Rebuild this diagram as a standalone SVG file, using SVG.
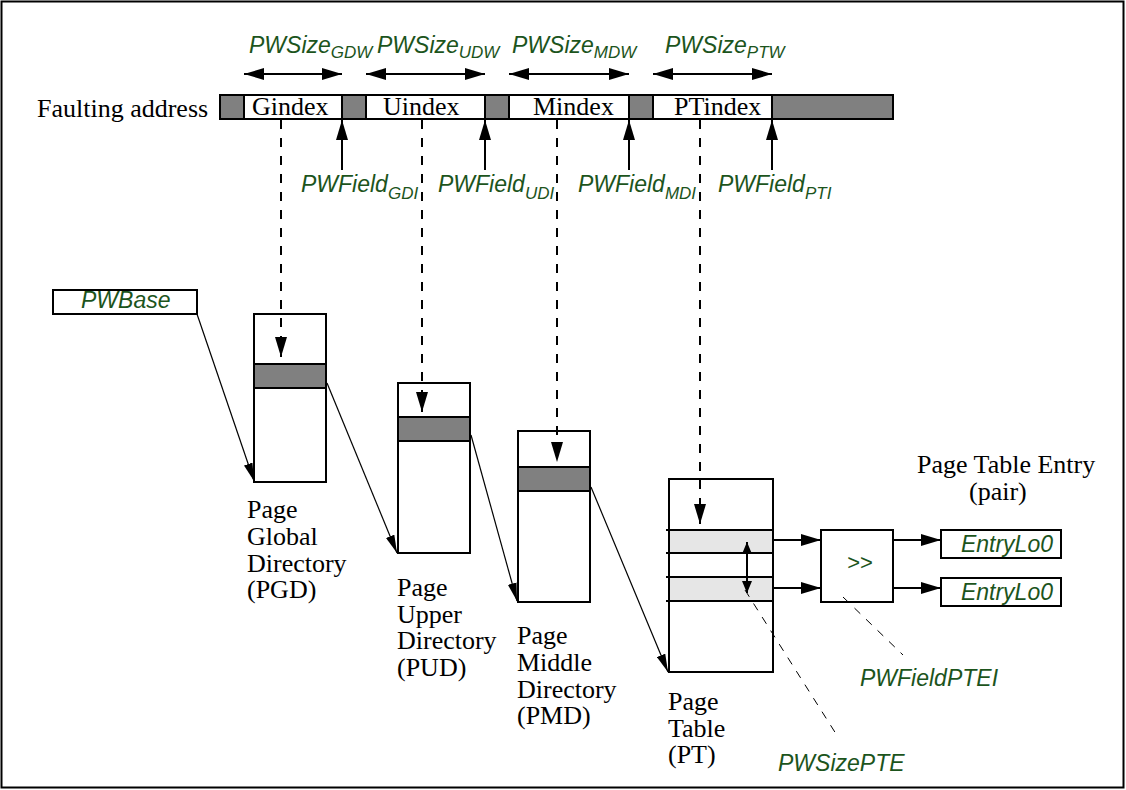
<svg xmlns="http://www.w3.org/2000/svg" width="1126" height="790" viewBox="0 0 1126 790">
<style>
.box{fill:#fff;stroke:#000;stroke-width:2}
.dk{fill:#808080;stroke:#000;stroke-width:2}
.lt{fill:#e6e6e6;stroke:#000;stroke-width:2}
.ser{font-family:"Liberation Serif","Times New Roman",serif;font-size:26px;fill:#000}
.grn{font-family:"Liberation Sans",Arial,sans-serif;font-style:italic;font-size:23px;fill:#1c541c}
.sub{font-size:17px}
.thick{stroke:#000;stroke-width:2;fill:none}
.thin{stroke:#000;stroke-width:1.2;fill:none}
.dash{stroke:#000;stroke-width:2;fill:none;stroke-dasharray:9 9}
.tdash{stroke:#000;stroke-width:1;fill:none;stroke-dasharray:8 8}
</style>
<defs>
<marker id="ah" markerUnits="userSpaceOnUse" markerWidth="20" markerHeight="12" refX="20" refY="6" orient="auto-start-reverse"><path d="M0,0 L20,6 L0,12 z" fill="#000"/></marker>
<marker id="ahs" markerUnits="userSpaceOnUse" markerWidth="18" markerHeight="9" refX="18" refY="4.5" orient="auto"><path d="M0,0 L18,4.5 L0,9 z" fill="#000"/></marker>
<marker id="ahm" markerUnits="userSpaceOnUse" markerWidth="12" markerHeight="10" refX="12" refY="5" orient="auto-start-reverse"><path d="M0,0 L12,5 L0,10 z" fill="#000"/></marker>
</defs>
<rect x="1.5" y="1.5" width="1122" height="786" fill="#fff" stroke="#000" stroke-width="2"/>

<g id="faulting-address">
<text class="ser" x="37" y="117">Faulting address</text>
<rect class="dk" x="220" y="95" width="24" height="24"/>
<rect class="box" x="244" y="95" width="98" height="24"/>
<rect class="dk" x="342" y="95" width="24" height="24"/>
<rect class="box" x="366" y="95" width="119" height="24"/>
<rect class="dk" x="485" y="95" width="24" height="24"/>
<rect class="box" x="509" y="95" width="120" height="24"/>
<rect class="dk" x="629" y="95" width="24" height="24"/>
<rect class="box" x="653" y="95" width="119" height="24"/>
<rect class="dk" x="772" y="95" width="121" height="24"/>
<text class="ser" x="252" y="114.5">Gindex</text>
<text class="ser" x="383" y="114.5">Uindex</text>
<text class="ser" x="533" y="114.5">Mindex</text>
<text class="ser" x="674" y="114.5">PTindex</text>
</g>

<g id="size-labels">
<text class="grn" x="249" y="53">PWSize<tspan class="sub" dy="5">GDW</tspan></text>
<text class="grn" x="377" y="53">PWSize<tspan class="sub" dy="5">UDW</tspan></text>
<text class="grn" x="512" y="53">PWSize<tspan class="sub" dy="5">MDW</tspan></text>
<text class="grn" x="665" y="53">PWSize<tspan class="sub" dy="5">PTW</tspan></text>
</g>

<g id="field-labels">
<text class="grn" x="301" y="192">PWField<tspan class="sub" dy="7">GDI</tspan></text>
<text class="grn" x="438" y="192">PWField<tspan class="sub" dy="7">UDI</tspan></text>
<text class="grn" x="578" y="192">PWField<tspan class="sub" dy="7">MDI</tspan></text>
<text class="grn" x="718" y="192">PWField<tspan class="sub" dy="7">PTI</tspan></text>
</g>

<g id="pwbase">
<rect class="box" x="53" y="290" width="144" height="24"/>
<text class="grn" x="81" y="308">PWBase</text>
</g>

<g id="pgd">
<rect class="box" x="254" y="314" width="72" height="168"/>
<rect class="dk" x="254" y="364" width="72" height="24"/>
<text class="ser" x="247"><tspan x="247" y="518">Page</tspan><tspan x="247" y="545">Global</tspan><tspan x="247" y="572">Directory</tspan><tspan x="247" y="598">(PGD)</tspan></text>
</g>

<g id="pud">
<rect class="box" x="398" y="383" width="72" height="170"/>
<rect class="dk" x="398" y="417" width="72" height="24"/>
<text class="ser" x="397"><tspan x="397" y="596">Page</tspan><tspan x="397" y="623">Upper</tspan><tspan x="397" y="649">Directory</tspan><tspan x="397" y="676">(PUD)</tspan></text>
</g>

<g id="pmd">
<rect class="box" x="518" y="431" width="72" height="171"/>
<rect class="dk" x="518" y="467" width="72" height="24"/>
<text class="ser" x="517"><tspan x="517" y="644">Page</tspan><tspan x="517" y="671">Middle</tspan><tspan x="517" y="698">Directory</tspan><tspan x="517" y="724">(PMD)</tspan></text>
</g>

<g id="pt">
<rect class="box" x="669" y="479" width="104" height="193"/>
<rect x="669" y="530" width="104" height="23" fill="#e6e6e6"/>
<rect x="669" y="577" width="104" height="24" fill="#e6e6e6"/>
<path class="thick" d="M666,530H773M666,553H773M666,577H773M666,601H773"/>
<rect x="669" y="479" width="104" height="193" fill="none" stroke="#000" stroke-width="2"/>
<text class="ser" x="668"><tspan x="668" y="710">Page</tspan><tspan x="668" y="737">Table</tspan><tspan x="668" y="763">(PT)</tspan></text>
</g>

<g id="shifter">
<rect class="box" x="821" y="530" width="72" height="72"/>
<text x="860" y="570" text-anchor="middle" font-family="Liberation Sans, Arial, sans-serif" font-size="22" fill="#1c541c">&gt;&gt;</text>
</g>

<g id="pte-title">
<text class="ser" x="917" y="473">Page Table Entry</text>
<text class="ser" x="969" y="500">(pair)</text>
</g>

<g id="entrylo-1">
<rect class="box" x="941" y="530" width="120" height="28"/>
<text class="grn" x="1053" y="552" text-anchor="end">EntryLo0</text>
</g>
<g id="entrylo-2">
<rect class="box" x="941" y="578" width="120" height="28"/>
<text class="grn" x="1053" y="600" text-anchor="end">EntryLo0</text>
</g>

<g id="pwfieldptei">
<text class="grn" x="860" y="686">PWFieldPTEI</text>
</g>
<g id="pwsizepte">
<text class="grn" x="778" y="771">PWSizePTE</text>
</g>

<g id="connectors">
<!-- size double arrows -->
<line class="thick" x1="244" y1="74" x2="342" y2="74" marker-start="url(#ah)" marker-end="url(#ah)"/>
<line class="thick" x1="366" y1="74" x2="485" y2="74" marker-start="url(#ah)" marker-end="url(#ah)"/>
<line class="thick" x1="509" y1="74" x2="629" y2="74" marker-start="url(#ah)" marker-end="url(#ah)"/>
<line class="thick" x1="653" y1="74" x2="772" y2="74" marker-start="url(#ah)" marker-end="url(#ah)"/>
<!-- field up arrows -->
<line class="thick" x1="342" y1="170" x2="342" y2="120" marker-end="url(#ah)"/>
<line class="thick" x1="485" y1="170" x2="485" y2="120" marker-end="url(#ah)"/>
<line class="thick" x1="629" y1="170" x2="629" y2="120" marker-end="url(#ah)"/>
<line class="thick" x1="772" y1="170" x2="772" y2="120" marker-end="url(#ah)"/>
<!-- index dashed arrows -->
<line class="dash" x1="281" y1="120" x2="281" y2="357" marker-end="url(#ah)"/>
<line class="dash" x1="422" y1="120" x2="422" y2="412" marker-end="url(#ah)"/>
<line class="dash" x1="557" y1="120" x2="557" y2="462" marker-end="url(#ah)"/>
<line class="dash" x1="700" y1="120" x2="700" y2="524" marker-end="url(#ah)"/>
<!-- base pointers -->
<line class="thin" x1="197" y1="314" x2="254" y2="481" marker-end="url(#ahs)"/>
<line class="thin" x1="327" y1="383" x2="397" y2="553" marker-end="url(#ahs)"/>
<line class="thin" x1="471" y1="435" x2="517" y2="601" marker-end="url(#ahs)"/>
<line class="thin" x1="591" y1="487" x2="668" y2="672" marker-end="url(#ahs)"/>
<!-- PTE to shifter to EntryLo -->
<line class="thick" x1="773" y1="540" x2="821" y2="540" marker-end="url(#ah)"/>
<line class="thick" x1="773" y1="588" x2="821" y2="588" marker-end="url(#ah)"/>
<line class="thick" x1="893" y1="540" x2="941" y2="540" marker-end="url(#ah)"/>
<line class="thick" x1="893" y1="588" x2="941" y2="588" marker-end="url(#ah)"/>
<!-- PTE size double arrow -->
<line class="thick" x1="747" y1="542" x2="747" y2="593" marker-start="url(#ahm)" marker-end="url(#ahm)"/>
<!-- callout leaders -->
<line class="tdash" x1="745" y1="590" x2="838" y2="737"/>
<line class="tdash" x1="843" y1="597" x2="903" y2="655"/>
</g>
</svg>
